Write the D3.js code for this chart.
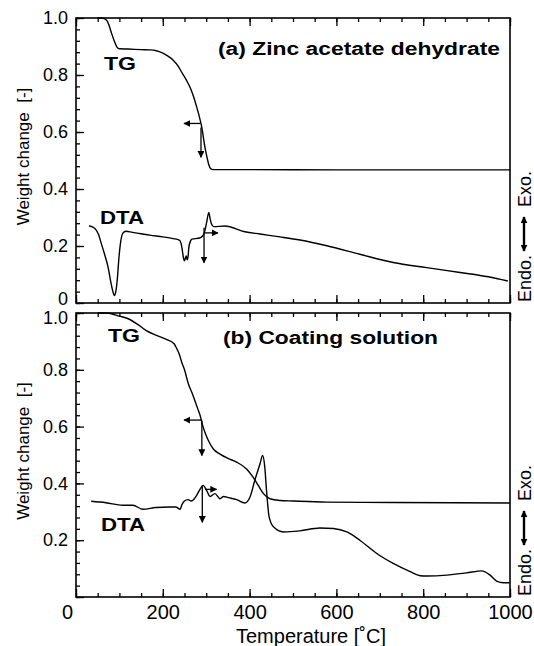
<!DOCTYPE html>
<html>
<head>
<meta charset="utf-8">
<script src="https://cdn.jsdelivr.net/npm/d3@7"></script>
<style>
  body { margin: 0; background: #fff; }
  svg { display: block; font-family: "Liberation Sans", Arial, sans-serif; }
</style>
</head>
<body>
<div id="chart"></div>
<script>
// temperature [C], weight change / DTA signal
const tgA = [
    [50, 1.0], [60, 1.0], [70, 0.993], [76, 0.975], [82, 0.946], [88, 0.92], [94, 0.899],
    [100, 0.892], [120, 0.891], [150, 0.889], [170, 0.888], [185, 0.885], [195, 0.880],
    [210, 0.868], [224, 0.852], [235, 0.832], [245, 0.806], [255, 0.780], [263, 0.756],
    [270, 0.728], [278, 0.688], [284, 0.655], [290, 0.615], [297, 0.547], [302, 0.51],
    [306, 0.485], [310, 0.472], [316, 0.468], [400, 0.468], [600, 0.467], [800, 0.467], [1000, 0.467]
];
const dtaA = [
    [30, 0.271], [43, 0.262], [52, 0.240], [58, 0.210], [66, 0.170], [74, 0.125], [80, 0.075],
    [85, 0.040], [88, 0.026], [91, 0.035], [95, 0.080], [99, 0.160], [103, 0.215], [108, 0.245],
    [115, 0.252], [130, 0.248], [150, 0.243], [170, 0.238], [200, 0.232], [224, 0.226],
    [238, 0.221], [242, 0.21], [245, 0.185], [248, 0.155], [250, 0.148], [252, 0.158],
    [254, 0.165], [256, 0.152], [258, 0.160], [260, 0.195], [264, 0.218], [267, 0.224],
    [285, 0.228], [292, 0.235], [296, 0.248], [301, 0.283], [306, 0.318], [309, 0.296],
    [312, 0.278], [317, 0.268], [343, 0.27], [389, 0.25], [424, 0.242], [470, 0.232],
    [516, 0.221], [578, 0.201], [654, 0.171], [731, 0.142], [808, 0.124], [885, 0.107],
    [950, 0.092], [995, 0.077]
];
const tgB = [
    [50, 1.0], [70, 1.0], [100, 0.989], [123, 0.978], [142, 0.96], [161, 0.939], [184, 0.922],
    [207, 0.908], [226, 0.892], [232, 0.875], [238, 0.855], [244, 0.825], [250, 0.800],
    [259, 0.750], [267, 0.72], [274, 0.691], [280, 0.665], [286, 0.639], [293, 0.598],
    [299, 0.572], [305, 0.551], [316, 0.522], [332, 0.503], [350, 0.488], [370, 0.475],
    [393, 0.451], [408, 0.422], [420, 0.393], [432, 0.364], [447, 0.346], [470, 0.340],
    [500, 0.338], [577, 0.334], [731, 0.333], [1000, 0.331]
];
const dtaB = [
    [35, 0.337], [69, 0.332], [108, 0.323], [131, 0.323], [154, 0.309], [184, 0.315],
    [217, 0.317], [230, 0.317], [240, 0.309], [244, 0.325], [250, 0.338], [258, 0.343],
    [266, 0.338], [272, 0.345], [278, 0.358], [286, 0.38], [293, 0.393], [301, 0.375],
    [309, 0.354], [320, 0.364], [332, 0.346], [340, 0.354], [351, 0.350], [370, 0.343],
    [389, 0.331], [401, 0.352], [412, 0.411], [424, 0.469], [430, 0.498], [435, 0.457],
    [439, 0.375], [445, 0.282], [455, 0.247], [478, 0.229], [516, 0.233], [562, 0.243],
    [593, 0.241], [624, 0.229], [654, 0.200], [693, 0.153], [731, 0.118], [770, 0.089],
    [793, 0.075], [808, 0.074], [854, 0.077], [900, 0.085], [935, 0.092], [954, 0.077],
    [969, 0.056], [985, 0.050], [999, 0.05]
];

// annotation arrows: [T1, v1, T2, v2], head at the second point
const arrowsA = [[286, 0.630, 249, 0.630], [288, 0.616, 288, 0.511], [295, 0.264, 295, 0.141], [297, 0.246, 327, 0.246]];
const arrowsB = [[290, 0.623, 249, 0.623], [290, 0.621, 290, 0.498], [291, 0.393, 291, 0.263], [297, 0.379, 324, 0.379]];

const titles = ['(a) Zinc acetate dehydrate', '(b) Coating solution'];
const xTicks = [0, 200, 400, 600, 800, 1000];
const yTicks = [0, 0.2, 0.4, 0.6, 0.8, 1.0];

const width = 534;
const height = 646;

const svg = d3.select('#chart')
    .append('svg')
    .attr('width', width)
    .attr('height', height);

svg.append('defs').append('marker')
    .attr('id', 'head')
    .attr('viewBox', '0 0 10 10')
    .attr('refX', 9).attr('refY', 5)
    .attr('markerWidth', 7).attr('markerHeight', 7)
    .attr('markerUnits', 'userSpaceOnUse')
    .attr('orient', 'auto')
    .append('path')
    .attr('d', 'M0,0 L10,5 L0,10 Z')
    .attr('fill', '#000');

const x = d3.scaleLinear().domain([0, 1000]).range([76, 510]);

const panels = [
    { y: d3.scaleLinear().domain([0, 1]).range([303, 18]), tg: tgA, dta: dtaA, arrows: arrowsA, title: titles[0],
      titleX: 218, titleY: 55, titleW: 282, tgLab: [104, 70], dtaLab: [100, 224], xLabels: false },
    { y: d3.scaleLinear().domain([0, 1]).range([597, 313]), tg: tgB, dta: dtaB, arrows: arrowsB, title: titles[1],
      titleX: 223, titleY: 344, titleW: 215, tgLab: [108, 342], dtaLab: [101, 531], xLabels: true },
];

const line = (y) => d3.line()
    .x((d) => x(d[0]))
    .y((d) => y(d[1]))
    .curve(d3.curveMonotoneX);

panels.forEach((p) => {
    const g = svg.append('g');
    const y = p.y;
    const top = y(1), bottom = y(0);

    // minor + major ticks, all inward
    const minorX = d3.range(0, 1001, 50);
    const minorY = d3.range(0, 1.0001, 0.04);

    g.append('g').attr('transform', `translate(0,${bottom})`)
        .call(d3.axisBottom(x).tickValues(minorX).tickSize(-4).tickFormat(''));
    g.append('g').attr('transform', `translate(0,${top})`)
        .call(d3.axisTop(x).tickValues(minorX).tickSize(-4).tickFormat(''));
    g.append('g').attr('transform', `translate(0,${top})`)
        .call(d3.axisTop(x).tickValues(xTicks).tickSize(-8).tickFormat(''));

    const xb = g.append('g').attr('transform', `translate(0,${bottom})`)
        .call(d3.axisBottom(x).tickValues(xTicks).tickSize(-8).tickPadding(8)
            .tickFormat((d) => p.xLabels ? d : ''));
    xb.selectAll('text').attr('font-size', 20).attr('fill', '#000')
        .attr('font-family', '"Liberation Sans", Arial, sans-serif')
        .attr('x', (d) => d === 0 ? -9 : 0);

    g.append('g').attr('transform', `translate(${x(0)},0)`)
        .call(d3.axisLeft(y).tickValues(minorY).tickSize(-4).tickFormat(''));
    const yl = g.append('g').attr('transform', `translate(${x(0)},0)`)
        .call(d3.axisLeft(y).tickValues(yTicks).tickSize(-8).tickPadding(8)
            .tickFormat((d) => {
                if (d === 0) return p.xLabels ? '' : '0';
                return d3.format('.1f')(d);
            }));
    yl.selectAll('text').attr('font-size', 18).attr('fill', '#000')
        .attr('font-family', '"Liberation Sans", Arial, sans-serif')
        .attr('y', (d) => {
            // nudge the labels next to the panel gap apart
            if (d === 0) return -4;
            if (d === 1 && p.xLabels) return 5;
            return 0;
        });

    g.selectAll('.domain').remove();
    g.selectAll('.tick line').attr('stroke', '#000').attr('stroke-width', 1.3);

    // frame
    g.append('rect')
        .attr('x', x(0)).attr('y', top)
        .attr('width', x(1000) - x(0)).attr('height', bottom - top)
        .attr('fill', 'none').attr('stroke', '#000').attr('stroke-width', 1.6);

    // curves
    [p.tg, p.dta].forEach((s) => {
        g.append('path')
            .datum(s)
            .attr('d', line(y))
            .attr('fill', 'none')
            .attr('stroke', '#000')
            .attr('stroke-width', 1.4)
            .attr('stroke-linejoin', 'round');
    });

    // arrows
    g.selectAll('.arr')
        .data(p.arrows)
        .join('line')
        .attr('x1', (d) => x(d[0])).attr('y1', (d) => y(d[1]))
        .attr('x2', (d) => x(d[2])).attr('y2', (d) => y(d[3]))
        .attr('stroke', '#000').attr('stroke-width', 1.3)
        .attr('marker-end', 'url(#head)');

    // labels
    g.append('text')
        .attr('x', p.titleX).attr('y', p.titleY)
        .attr('font-size', 18).attr('font-weight', 'bold')
        .attr('textLength', p.titleW).attr('lengthAdjust', 'spacingAndGlyphs')
        .text(p.title);
    g.append('text')
        .attr('x', p.tgLab[0]).attr('y', p.tgLab[1])
        .attr('font-size', 19).attr('font-weight', 'bold')
        .attr('textLength', 32).attr('lengthAdjust', 'spacingAndGlyphs')
        .text('TG');
    g.append('text')
        .attr('x', p.dtaLab[0]).attr('y', p.dtaLab[1])
        .attr('font-size', 19).attr('font-weight', 'bold')
        .attr('textLength', 44).attr('lengthAdjust', 'spacingAndGlyphs')
        .text('DTA');

    g.append('text')
        .attr('transform', `translate(29,${(top + bottom) / 2 - 4}) rotate(-90)`)
        .attr('text-anchor', 'middle')
        .attr('font-size', 17)
        .text('Weight change\u00a0\u00a0[-]');

    // Endo. <-> Exo.
    const r = g.append('g').attr('transform', `translate(531,${bottom}) rotate(-90)`);
    r.append('text').attr('x', 1).attr('font-size', 18).text('Endo.');
    r.append('text').attr('x', 96).attr('font-size', 18).text('Exo.');
    r.append('line')
        .attr('x1', 69).attr('x2', 86).attr('y1', -7).attr('y2', -7)
        .attr('stroke', '#000').attr('stroke-width', 2.4)
        .attr('marker-end', 'url(#head)');
    r.append('line')
        .attr('x1', 69).attr('x2', 52).attr('y1', -7).attr('y2', -7)
        .attr('stroke', '#000').attr('stroke-width', 2.4)
        .attr('marker-end', 'url(#head)');
});

svg.append('text')
    .attr('x', 311).attr('y', 643)
    .attr('text-anchor', 'middle')
    .attr('font-size', 20)
    .text('Temperature [\u02daC]');
</script>
</body>
</html>
